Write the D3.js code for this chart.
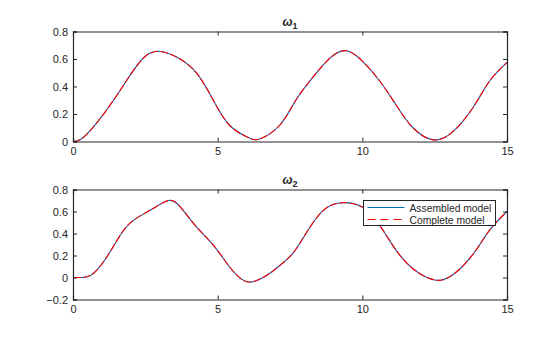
<!DOCTYPE html>
<html>
<head>
<meta charset="utf-8">
<script src="https://cdn.jsdelivr.net/npm/d3@7"></script>
<style>
  body { margin: 0; background: #fff; }
  svg text { font-family: Arial, "Liberation Sans", Helvetica, sans-serif; fill: #262626; }
</style>
</head>
<body>
<div id="chart"></div>
<script>
var t1 = [0, 0.3, 0.8, 1.4, 2.0, 2.5, 3.03, 3.7, 4.3, 4.85, 5.4, 6.0, 6.45, 7.15, 7.7, 8.3, 8.9, 9.45, 10.0, 10.6, 11.2, 11.75, 12.45, 13.15, 13.85, 14.4, 15];
var omega1_assembled = [0, 0.02, 0.13, 0.30, 0.49, 0.62, 0.655, 0.60, 0.49, 0.30, 0.12, 0.035, 0.018, 0.12, 0.30, 0.47, 0.61, 0.66, 0.585, 0.44, 0.255, 0.10, 0.012, 0.075, 0.255, 0.44, 0.575];
var omega1_complete = [0, 0.02, 0.13, 0.30, 0.49, 0.62, 0.655, 0.60, 0.49, 0.30, 0.12, 0.035, 0.018, 0.12, 0.30, 0.47, 0.61, 0.66, 0.585, 0.44, 0.255, 0.10, 0.012, 0.075, 0.255, 0.44, 0.575];

var t2 = [0, 0.45, 0.8, 1.25, 1.75, 2.2, 2.75, 3.3, 3.7, 4.25, 4.85, 5.4, 5.8, 6.17, 6.7, 7.15, 7.6, 8.05, 8.65, 9.3, 10.0, 10.6, 11.2, 11.75, 12.2, 12.7, 13.25, 13.85, 14.4, 15];
var omega2_assembled = [0, 0.005, 0.06, 0.22, 0.43, 0.54, 0.625, 0.70, 0.645, 0.465, 0.295, 0.10, -0.01, -0.04, 0.02, 0.11, 0.22, 0.40, 0.61, 0.68, 0.64, 0.475, 0.235, 0.08, 0.005, -0.025, 0.05, 0.22, 0.43, 0.60];
var omega2_complete = [0, 0.005, 0.06, 0.22, 0.43, 0.54, 0.625, 0.70, 0.645, 0.465, 0.295, 0.10, -0.01, -0.04, 0.02, 0.11, 0.22, 0.40, 0.61, 0.68, 0.64, 0.475, 0.235, 0.08, 0.005, -0.025, 0.05, 0.22, 0.43, 0.60];

var xTicks = [0, 5, 10, 15];
var y1Ticks = [0, 0.2, 0.4, 0.6, 0.8];
var y2Ticks = [-0.2, 0, 0.2, 0.4, 0.6, 0.8];
var legendLabels = ["Assembled model", "Complete model"];

var width = 560, height = 337;
var svg = d3.select("#chart").append("svg")
    .attr("width", width).attr("height", height);

var left = 73, right = 507;

function draw_panel(top, bottom, yDomain, yTicks, t, assembled, complete, sub, withLegend) {
    var x = d3.scaleLinear().domain([0, 15]).range([left, right]);
    var y = d3.scaleLinear().domain(yDomain).range([bottom, top]);
    var g = svg.append("g");

    var line = d3.line()
        .x(function(d) { return x(d[0]); })
        .y(function(d) { return y(d[1]); })
        .curve(d3.curveNatural);

    g.append("path")
        .datum(t.map(function(v, i) { return [v, assembled[i]]; }))
        .attr("d", line)
        .attr("fill", "none").attr("stroke", "#0072BD").attr("stroke-width", 1.1);
    g.append("path")
        .datum(t.map(function(v, i) { return [v, complete[i]]; }))
        .attr("d", line)
        .attr("fill", "none").attr("stroke", "#FF0000").attr("stroke-width", 1.1)
        .attr("stroke-dasharray", "8,2");

    // axes, ticks inside like matlab
    var xb = g.append("g").attr("transform", "translate(0," + bottom + ")")
        .call(d3.axisBottom(x).tickValues(xTicks).tickSize(-4).tickPadding(6).tickFormat(d3.format("d")));
    var xt = g.append("g").attr("transform", "translate(0," + top + ")")
        .call(d3.axisTop(x).tickValues(xTicks).tickSize(-4).tickFormat(""));
    var yl = g.append("g").attr("transform", "translate(" + left + ",0)")
        .call(d3.axisLeft(y).tickValues(yTicks).tickSize(-4).tickPadding(5).tickFormat(function(d) { return d === 0 ? "0" : d3.format(".1f")(d); }));
    var yr = g.append("g").attr("transform", "translate(" + right + ",0)")
        .call(d3.axisRight(y).tickValues(yTicks).tickSize(-4).tickFormat(""));
    [xb, xt, yl, yr].forEach(function(a) {
        a.select(".domain").attr("stroke", "#262626").attr("stroke-width", 1.2);
        a.selectAll(".tick line").attr("stroke", "#262626");
        a.selectAll("text").style("font-size", "11px").attr("fill", "#262626");
    });
    xb.selectAll("text").attr("dy", "0.71em");

    var title = g.append("text")
        .attr("x", (left + right) / 2).attr("y", top - 6)
        .attr("text-anchor", "middle")
        .style("font-size", "12px").style("font-weight", "bold");
    title.append("tspan").text("\u03c9").style("font-style", "italic");
    title.append("tspan").text(sub).attr("dy", 3).style("font-size", "9px");

    if (withLegend) {
        var lg = g.append("g").attr("transform", "translate(363.5,200.5)");
        lg.append("rect").attr("width", 132).attr("height", 25)
            .attr("fill", "#fff").attr("stroke", "#262626").attr("stroke-width", 1);
        var colors = ["#0072BD", "#FF0000"];
        var dashes = [null, "8,5"];
        legendLabels.forEach(function(lab, i) {
            var yy = 7 + i * 12;
            lg.append("line").attr("x1", 4).attr("x2", 41).attr("y1", yy).attr("y2", yy)
                .attr("stroke", colors[i]).attr("stroke-width", 1)
                .attr("stroke-dasharray", dashes[i]);
            lg.append("text").attr("x", 46).attr("y", yy + 4)
                .style("font-size", "10.3px").text(lab);
        });
    }
}

draw_panel(31.5, 141.5, [0, 0.8], y1Ticks, t1, omega1_assembled, omega1_complete, "1", false);
draw_panel(189.5, 299.5, [-0.2, 0.8], y2Ticks, t2, omega2_assembled, omega2_complete, "2", true);
</script>
</body>
</html>
